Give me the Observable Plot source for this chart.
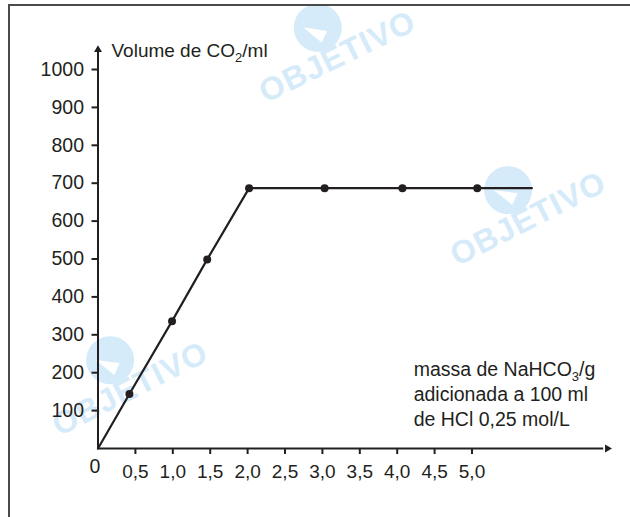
<!DOCTYPE html>
<html>
<head>
<meta charset="utf-8">
<script src="https://cdn.jsdelivr.net/npm/d3@7"></script>
<script src="https://cdn.jsdelivr.net/npm/@observablehq/plot@0.6"></script>
<style>
  html, body { margin: 0; padding: 0; background: #fff; }
  #wrap { position: relative; width: 630px; height: 517px; overflow: hidden; }
  #frame { position: absolute; left: 8px; top: 4px; right: 0; bottom: 0;
           border-top: 2px solid #4a4a4a; border-left: 2px solid #4a4a4a; z-index: 2; pointer-events: none; }
  #chart { position: absolute; left: 0; top: 0; }
</style>
</head>
<body>
<div id="wrap"><div id="frame"></div><div id="chart"></div></div>
<script>
// ---- data ----
const massa = [0.42, 0.99, 1.46, 2.02, 3.03, 4.07, 5.07];        // g NaHCO3
const volume = [144, 336, 499, 687, 687, 687, 687];             // ml CO2
const lineMassa = [0, 0.42, 0.99, 1.46, 2.02, 3.03, 4.07, 5.07, 5.8];
const lineVolume = [0, 144, 336, 499, 687, 687, 687, 687, 687];
const xTicks = [0.5, 1, 1.5, 2, 2.5, 3, 3.5, 4, 4.5, 5];
const xTickLabels = ["0,5", "1,0", "1,5", "2,0", "2,5", "3,0", "3,5", "4,0", "4,5", "5,0"];
const yTicks = [100, 200, 300, 400, 500, 600, 700, 800, 900, 1000];
const yTitle = "Volume de CO_2/ml";
const xTitle = "massa de NaHCO_3/g\nadicionada a 100 ml\nde HCl 0,25 mol/L";

const ink = "#231f20";
const pts = massa.map((m, i) => ({m, v: volume[i]}));
const linePts = lineMassa.map((m, i) => ({m, v: lineVolume[i]}));

const chart = Plot.plot({
  width: 630,
  height: 517,
  marginLeft: 97.5,
  marginRight: 630 - (97.5 + 7 * 74.8),
  marginTop: 69,
  marginBottom: 69,
  style: {fontFamily: "'Liberation Sans', Arial, sans-serif", fontSize: "19px", color: ink, background: "transparent", overflow: "visible"},
  x: {domain: [0, 7]},
  y: {domain: [0, 1000]},
  marks: [
    // axes lines
    Plot.ruleY([0], {x1: 0, x2: 6.76, stroke: ink, strokeWidth: 2}),
    Plot.ruleX([0], {y1: 0, y2: 1045, stroke: ink, strokeWidth: 2}),
    Plot.dot([{m: 6.81, v: 0}], {x: "m", y: "v", symbol: "triangle2", rotate: 90, r: 3.8, fill: ink, stroke: null}),
    Plot.dot([{m: 0, v: 1052}], {x: "m", y: "v", symbol: "triangle2", r: 3.8, fill: ink, stroke: null}),
    Plot.axisY({ticks: yTicks, tickSize: 6, tickPadding: 8, fontSize: 19.5, stroke: ink, fill: ink, strokeWidth: 2, label: null, tickFormat: d => String(d)}),
    Plot.axisX({ticks: xTicks, tickSize: 6, tickPadding: 10, fontSize: 19, stroke: ink, fill: ink, strokeWidth: 2, label: null,
                tickFormat: d => xTickLabels[xTicks.indexOf(d)]}),
    Plot.text(["0"], {x: 0, y: 0, dx: -3, dy: 18, fontSize: 19.5, fill: ink}),
    // data
    Plot.line(linePts, {x: "m", y: "v", stroke: ink, strokeWidth: 2.2}),
    Plot.dot(pts, {x: "m", y: "v", r: 4, fill: ink, stroke: null}),
    // titles
    Plot.text([yTitle], {x: 0.18, y: 1068, textAnchor: "start", lineAnchor: "top", fontSize: 19, fill: ink}),
    Plot.text([xTitle], {x: 4.22, y: 238, textAnchor: "start", lineAnchor: "top", lineHeight: 1.28, fontSize: 19.5, fill: ink})
  ]
});

document.getElementById("chart").appendChild(chart);

// subscripts: replace "_d" with a lowered smaller tspan
const svg = d3.select(chart);
svg.selectAll("text, tspan").each(function () {
  if (this.childNodes.length !== 1 || this.firstChild.nodeType !== 3) return;
  const s = this.textContent;
  if (!s.includes("_")) return;
  const parts = s.split(/_(\d)/);
  this.textContent = "";
  parts.forEach((p, i) => {
    if (i % 2 === 0) { if (p) this.appendChild(document.createTextNode(p)); }
    else {
      const sub = document.createElementNS("http://www.w3.org/2000/svg", "tspan");
      sub.setAttribute("dy", "5");
      sub.setAttribute("font-size", "13");
      sub.textContent = p;
      this.appendChild(sub);
      const back = document.createElementNS("http://www.w3.org/2000/svg", "tspan");
      back.setAttribute("dy", "-5");
      back.textContent = parts[i + 1] || "";
      parts[i + 1] = "";
      this.appendChild(back);
    }
  });
});

// light watermark (decoration, drawn beneath everything)
const wm = [
  {x: 342, y: 66, r: -26},
  {x: 533, y: 228, r: -27},
  {x: 135, y: 398, r: -27}
];
const g = svg.insert("g", ":first-child").attr("fill", "#d6ebfa");
wm.forEach(w => {
  const gg = g.append("g").attr("transform", `translate(${w.x},${w.y}) rotate(${w.r})`);
  gg.append("circle").attr("cx", -5).attr("cy", -45).attr("r", 24);
  gg.append("path").attr("d", "M-18,-52 L2,-38 L-8,-30 Z").attr("fill", "#ffffff");
  gg.append("text").attr("text-anchor", "middle").attr("font-family", "'Liberation Sans', Arial, sans-serif")
    .attr("font-weight", "bold").attr("font-size", 32).attr("letter-spacing", 1).text("OBJETIVO");
});
</script>
</body>
</html>
